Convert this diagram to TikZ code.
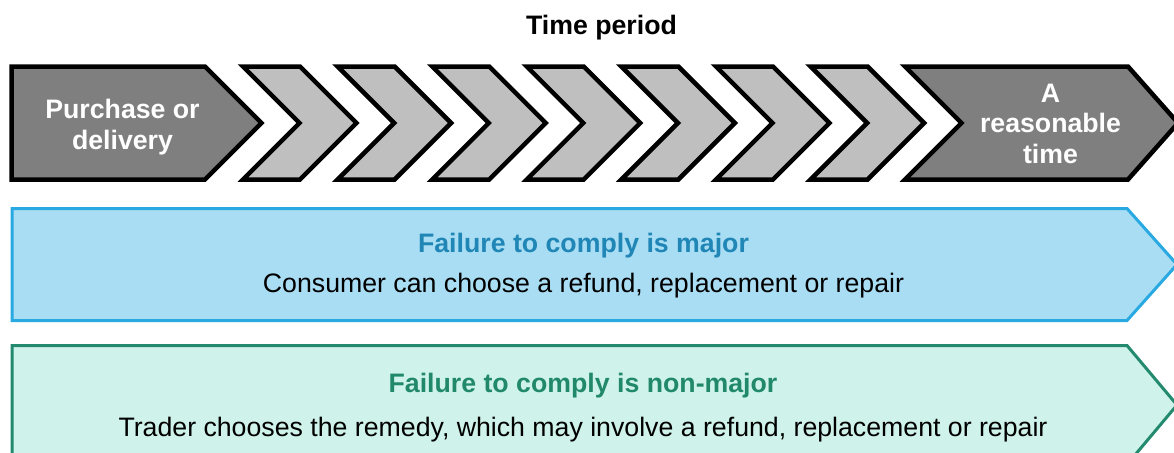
\documentclass[tikz,border=0pt]{standalone}
\usepackage{fontspec}
\setmainfont{Liberation Sans}
\definecolor{stepdark}{HTML}{7F7F7F}
\definecolor{steplight}{HTML}{BFBFBF}
\definecolor{majorline}{HTML}{29A9E1}
\definecolor{majorfill}{HTML}{A9DDF3}
\definecolor{majortext}{HTML}{1F86B6}
\definecolor{minorline}{HTML}{238A6F}
\definecolor{minorfill}{HTML}{CFF3EA}
\definecolor{minortext}{HTML}{21896A}
\tikzset{
  stepshape/.style={draw=black, line width=4.5pt, line join=miter},
  bandshape/.style={line width=3pt, line join=miter},
  txt/.style={inner sep=0pt, anchor=base, font=\fontsize{26.7}{31}\selectfont},
  boldtxt/.style={txt, font=\fontsize{26.7}{31}\selectfont\bfseries},
}
\begin{document}
\begin{tikzpicture}[x=1pt,y=-1pt]
\useasboundingbox (0,0) rectangle (1174,452);
\clip (0,0) rectangle (1174,452);

% heading
\node[boldtxt] (title) at (601.5,35) {Time period};

% first step of the time line
\draw[stepshape, fill=stepdark]
  (11.5,66.5) -- (205,66.5) -- (261.5,123) -- (205,179.5) -- (11.5,179.5) -- cycle;

% seven intermediate chevrons
\foreach \i in {0,...,6} {
  \pgfmathsetmacro{\a}{243+94.6*\i}
  \draw[stepshape, fill=steplight]
    (\a,66.5) -- (\a+57,66.5) -- (\a+113.5,123) -- (\a+57,179.5)
    -- (\a,179.5) -- (\a+56.5,123) -- cycle;
}

% final step
\draw[stepshape, fill=stepdark]
  (905,66.5) -- (1128,66.5) -- (1178,123) -- (1128,179.5) -- (905,179.5) -- (961.5,123) -- cycle;

\node[boldtxt, text=white] (purchaseA) at (122.5,118) {Purchase or};
\node[boldtxt, text=white] (purchaseB) at (122.5,149) {delivery};
\node[boldtxt, text=white] (reasonA) at (1050.5,102) {A};
\node[boldtxt, text=white] (reasonB) at (1050.5,132.5) {reasonable};
\node[boldtxt, text=white] (reasonC) at (1050.5,163) {time};

% major failure band
\draw[bandshape, draw=majorline, fill=majorfill]
  (12,208.5) -- (1127,208.5) -- (1177,264.5) -- (1127,320.5) -- (12,320.5) -- cycle;
\node[boldtxt, text=majortext] (majorTitle) at (583.5,252) {Failure to comply is major};
\node[txt] (majorText) at (583.5,292) {Consumer can choose a refund, replacement or repair};

% non-major failure band
\draw[bandshape, draw=minorline, fill=minorfill]
  (12,345.5) -- (1127,345.5) -- (1177,405) -- (1127,464.5) -- (12,464.5) -- cycle;
\node[boldtxt, text=minortext] (minorTitle) at (583,392) {Failure to comply is non-major};
\node[txt] (minorText) at (583,436) {Trader chooses the remedy, which may involve a refund, replacement or repair};
\end{tikzpicture}
\end{document}
